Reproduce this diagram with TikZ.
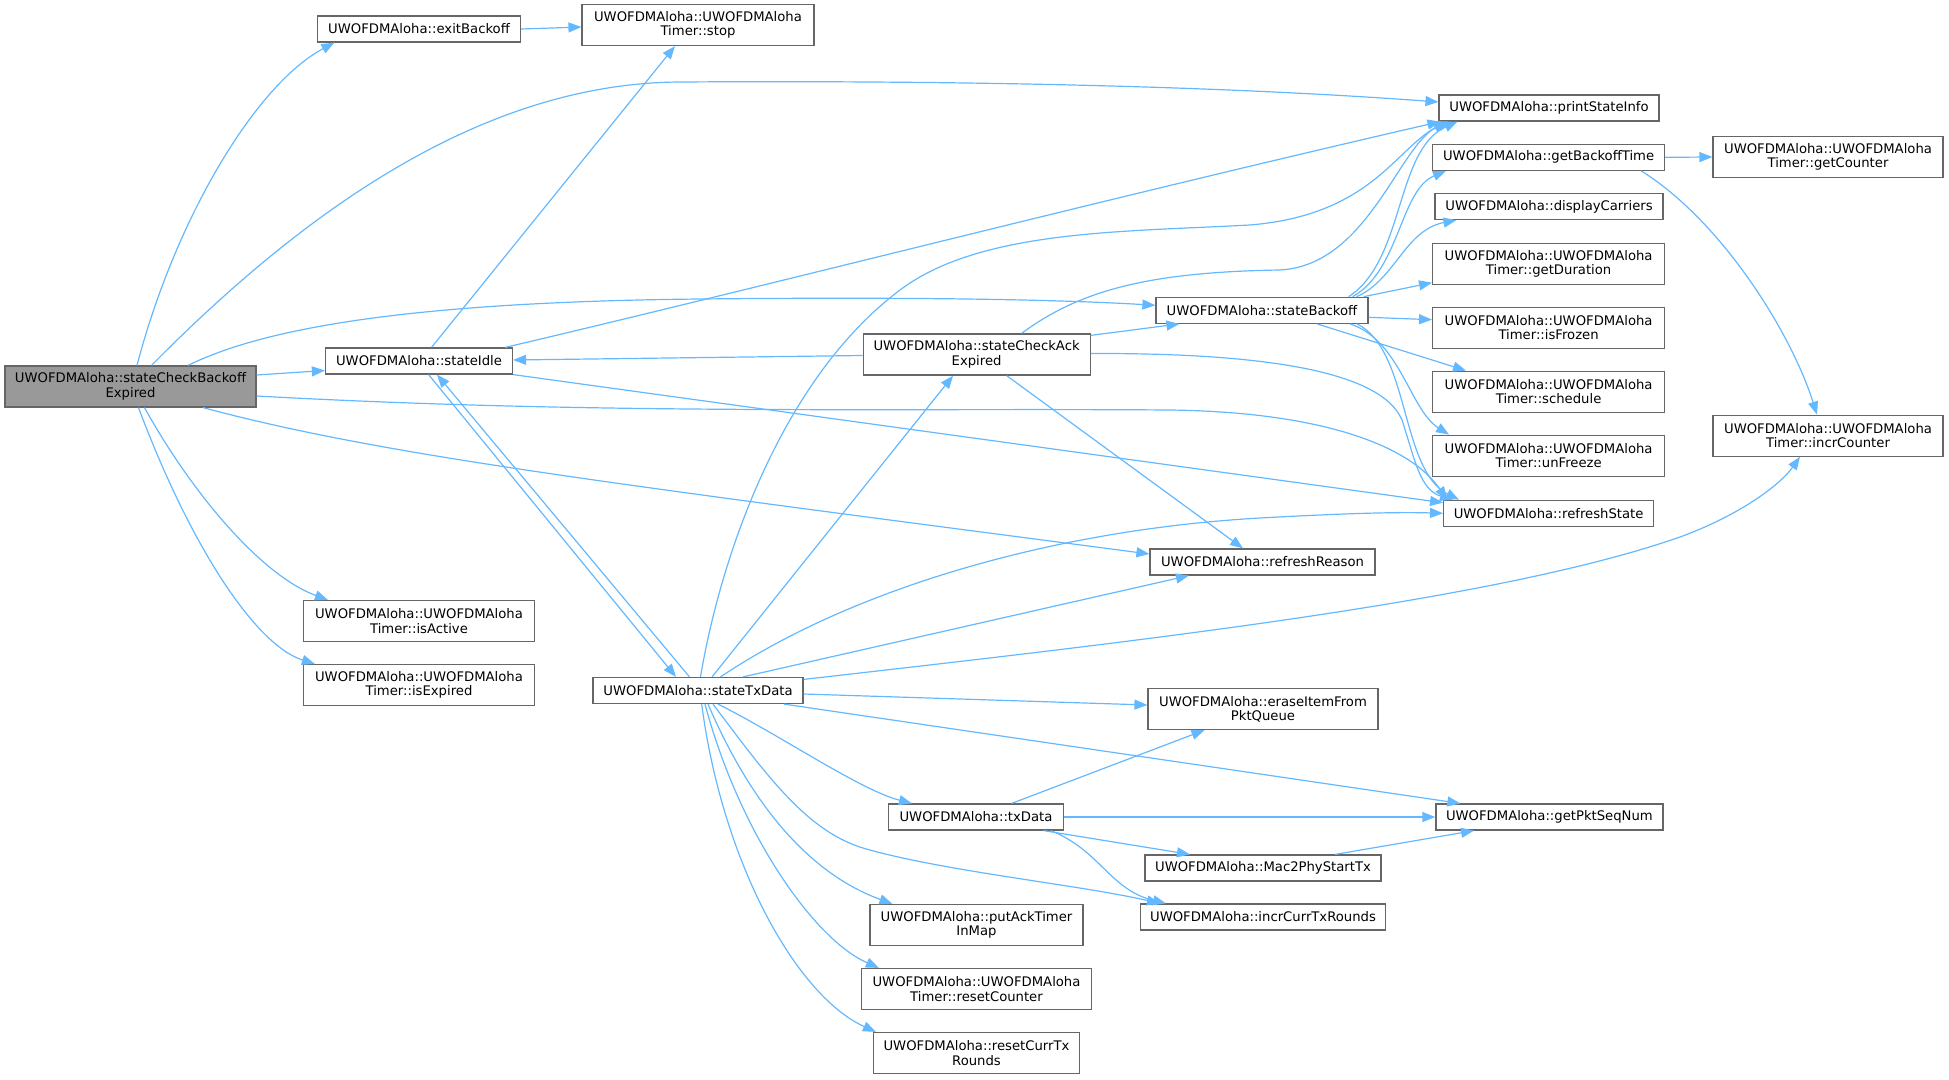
\documentclass[tikz,border=0pt]{standalone}
\usepackage{fontspec}
\setmainfont{DejaVu Sans}
\usetikzlibrary{arrows.meta,calc}
\definecolor{edgecol}{HTML}{63B8FF}
\definecolor{boxborder}{HTML}{666666}
\definecolor{mainfill}{HTML}{999999}
\tikzset{
  fn/.style={draw=boxborder, fill=white, line width=1.2pt, inner sep=0pt, align=center,
    font=\fontsize{13.2}{14.3}\selectfont},
  fnmain/.style={fn, fill=mainfill},
  sz/.style 2 args={minimum width=#1pt, minimum height=#2pt},
  call/.style={draw=edgecol, line width=1.2pt, -{Triangle[length=13pt,width=10pt]}},
}
\begin{document}
\begin{tikzpicture}[x=1pt,y=-1pt]
\useasboundingbox (0,0) rectangle (1949,1079);
% nodes
\node[fnmain, sz={251}{41}] (scbe) at (130.5,386.5) {UWOFDMAloha::stateCheckBackoff\\Expired};
\node[fn, sz={203}{26}] (exitb) at (419,29) {UWOFDMAloha::exitBackoff};
\node[fn, sz={232}{41}] (stop) at (698,25) {UWOFDMAloha::UWOFDMAloha\\Timer::stop};
\node[fn, sz={187}{26}] (idle) at (419,361) {UWOFDMAloha::stateIdle};
\node[fn, sz={220}{26}] (psi) at (1549,108) {UWOFDMAloha::printStateInfo};
\node[fn, sz={232}{26}] (gbt) at (1548.6,157.3) {UWOFDMAloha::getBackoffTime};
\node[fn, sz={230}{41}] (gcnt) at (1828,157) {UWOFDMAloha::UWOFDMAloha\\Timer::getCounter};
\node[fn, sz={228}{26}] (disp) at (1549,206.5) {UWOFDMAloha::displayCarriers};
\node[fn, sz={232}{41}] (gdur) at (1548.6,263.7) {UWOFDMAloha::UWOFDMAloha\\Timer::getDuration};
\node[fn, sz={212}{26}] (sbo) at (1262,310.3) {UWOFDMAloha::stateBackoff};
\node[fn, sz={232}{41}] (frz) at (1548.6,327.7) {UWOFDMAloha::UWOFDMAloha\\Timer::isFrozen};
\node[fn, sz={227}{41}] (scae) at (976.6,354.5) {UWOFDMAloha::stateCheckAck\\Expired};
\node[fn, sz={232}{41}] (sched) at (1548.6,391.7) {UWOFDMAloha::UWOFDMAloha\\Timer::schedule};
\node[fn, sz={230}{41}] (icnt) at (1828,435.7) {UWOFDMAloha::UWOFDMAloha\\Timer::incrCounter};
\node[fn, sz={232}{41}] (unf) at (1548.6,455.7) {UWOFDMAloha::UWOFDMAloha\\Timer::unFreeze};
\node[fn, sz={210}{26}] (rst) at (1548.6,513.3) {UWOFDMAloha::refreshState};
\node[fn, sz={225}{26}] (rrs) at (1262.5,562) {UWOFDMAloha::refreshReason};
\node[fn, sz={231}{41}] (act) at (419,621) {UWOFDMAloha::UWOFDMAloha\\Timer::isActive};
\node[fn, sz={231}{41}] (expd) at (419,685) {UWOFDMAloha::UWOFDMAloha\\Timer::isExpired};
\node[fn, sz={210}{26}] (txd) at (698,690.5) {UWOFDMAloha::stateTxData};
\node[fn, sz={230}{41}] (erase) at (1263,709) {UWOFDMAloha::eraseItemFrom\\PktQueue};
\node[fn, sz={175}{26}] (txdata) at (976,817) {UWOFDMAloha::txData};
\node[fn, sz={227}{26}] (gpsn) at (1549.4,817) {UWOFDMAloha::getPktSeqNum};
\node[fn, sz={236}{26}] (mac) at (1263,868) {UWOFDMAloha::Mac2PhyStartTx};
\node[fn, sz={245}{26}] (icr) at (1263,917) {UWOFDMAloha::incrCurrTxRounds};
\node[fn, sz={213}{41}] (put) at (976.5,925) {UWOFDMAloha::putAckTimer\\InMap};
\node[fn, sz={230}{41}] (rcnt) at (976.5,989) {UWOFDMAloha::UWOFDMAloha\\Timer::resetCounter};
\node[fn, sz={206}{41}] (rctr) at (976.5,1053) {UWOFDMAloha::resetCurrTx\\Rounds};
% edges from stateCheckBackoffExpired
\draw[call] ([xshift=6.5pt]scbe.north) .. controls (175,220) and (255,85) .. ([xshift=17.5pt]exitb.south west);
\draw[call] ([xshift=21pt]scbe.north) .. controls (300,215) and (480,83) .. (680,82) .. controls (1000,80) and (1250,88) .. ([yshift=6pt]psi.west);
\draw[call] ([xshift=57.5pt]scbe.north) .. controls (260,330) and (400,302) .. (700,299) .. controls (900,297) and (1050,299) .. ([yshift=5pt]sbo.west);
\draw[call] ([yshift=11.5pt]scbe.east) -- ([yshift=-9.5pt]idle.west);
\draw[call] ([yshift=-9.5pt]scbe.east) .. controls (600,415) and (900,408) .. (1170,410) .. controls (1320,412) and (1410,445) .. ([xshift=4pt]rst.north west);
\draw[call] ([xshift=72.5pt]scbe.south) .. controls (380,455) and (600,482) .. ([yshift=8pt]rrs.west);
\draw[call] ([xshift=14pt]scbe.south) .. controls (190,490) and (260,575) .. ([xshift=25pt]act.north west);
\draw[call] ([xshift=8pt]scbe.south) .. controls (190,545) and (255,645) .. ([xshift=12pt]expd.north west);
% exitBackoff
\draw[call] (exitb.east) -- ([yshift=-2pt]stop.west);
% stateIdle
\draw[call] ([xshift=12.5pt]idle.north) -- ([xshift=-23pt]stop.south);
\draw[call] ([xshift=-8pt]idle.north east) .. controls (750,290) and (1100,200) .. ([xshift=2pt]psi.south west);
\draw[call] (idle.south east) -- ([yshift=-3pt]rst.north west);
\draw[call] ([xshift=9.6pt]idle.south) -- ([xshift=-22pt]txd.north);
\draw[call] ([xshift=-8.5pt]txd.north) -- ([xshift=18pt]idle.south);
% stateCheckAckExpired
\draw[call] ([yshift=-1pt]scae.west) -- ([yshift=1pt]idle.east);
\draw[call] ([yshift=-2pt]scae.north east) -- ([xshift=24pt]sbo.south west);
\draw[call] ([xshift=45pt]scae.north) .. controls (1080,290) and (1150,272) .. (1280,270) .. controls (1370,265) and (1400,140) .. ([xshift=13pt]psi.south west);
\draw[call] ([yshift=1pt]scae.east) .. controls (1250,353) and (1380,368) .. (1402,420) .. controls (1415,460) and (1420,490) .. ([xshift=10pt]rst.north west);
\draw[call] ([xshift=30pt]scae.south) -- ([xshift=-19.5pt]rrs.north);
% stateBackoff
\draw[call] ([xshift=-5pt]sbo.north east) -- ([yshift=-19pt]gdur.west);
\draw[call] ([xshift=-12pt]sbo.north east) .. controls (1395,280) and (1405,230) .. ([xshift=22pt]disp.south west);
\draw[call] ([xshift=-16pt]sbo.north east) .. controls (1400,270) and (1400,190) .. ([xshift=14pt]gbt.south west);
\draw[call] ([xshift=-20pt]sbo.north east) .. controls (1405,260) and (1395,150) .. ([xshift=19pt]psi.south west);
\draw[call] ([yshift=-7pt]sbo.east) -- ([yshift=8pt]frz.west);
\draw[call] ([xshift=55pt]sbo.south) -- ([xshift=34pt]sched.north west);
\draw[call] ([xshift=88pt]sbo.south) .. controls (1400,340) and (1410,410) .. ([xshift=17pt]unf.north west);
\draw[call] ([xshift=95pt]sbo.south) .. controls (1410,350) and (1400,470) .. ([xshift=16pt]rst.north west);
% getBackoffTime
\draw[call] (gbt.east) -- (gcnt.west);
\draw[call] ([xshift=-24pt]gbt.south east) .. controls (1720,220) and (1790,330) .. ([xshift=-11pt]icnt.north);
% stateTxData
\draw[call] ([xshift=2.5pt]txd.north) .. controls (720,560) and (780,380) .. (900,290) .. controls (980,230) and (1120,232) .. (1250,225) .. controls (1370,215) and (1395,150) .. ([xshift=8pt]psi.south west);
\draw[call] ([xshift=14pt]txd.north) -- ([xshift=-23.5pt]scae.south);
\draw[call] ([xshift=22.5pt]txd.north) .. controls (850,590) and (1050,530) .. (1260,518) .. controls (1350,513) and (1400,512) .. (rst.west);
\draw[call] ([xshift=45pt]txd.north) -- ([xshift=39.5pt]rrs.south west);
\draw[call] ([yshift=-2.5pt]txd.north east) .. controls (1150,640) and (1500,600) .. (1680,537) .. controls (1740,515) and (1780,485) .. ([xshift=-28pt]icnt.south);
\draw[call] ([yshift=-3.5pt]txd.east) -- ([yshift=4pt]erase.west);
\draw[call] ([xshift=-19.5pt]txd.south east) -- ([xshift=25pt]gpsn.north west);
\draw[call] ([xshift=20pt]txd.south) .. controls (780,735) and (860,790) .. ([xshift=24pt]txdata.north west);
\draw[call] ([xshift=15pt]txd.south) .. controls (770,780) and (810,835) .. (870,850) .. controls (950,872) and (1080,885) .. ([xshift=20pt]icr.north west);
\draw[call] ([xshift=10pt]txd.south) .. controls (745,790) and (800,870) .. ([xshift=23pt]put.north west);
\draw[call] ([xshift=7pt]txd.south) .. controls (740,835) and (815,940) .. ([xshift=18pt]rcnt.north west);
\draw[call] ([xshift=3.7pt]txd.south) .. controls (722,860) and (795,995) .. ([xshift=3pt]rctr.north west);
% txData
\draw[call] ([xshift=35.6pt]txdata.north) -- ([xshift=-58.5pt]erase.south);
\draw[call] (txdata.east) -- (gpsn.west);
\draw[call] ([xshift=-20.5pt]txdata.south east) -- ([xshift=45.5pt]mac.north west);
\draw[call] ([xshift=-13.5pt]txdata.south east) .. controls (1100,850) and (1110,890) .. ([xshift=26pt]icr.north west);
% Mac2PhyStartTx
\draw[call] ([xshift=-46.5pt]mac.north east) -- ([xshift=38.7pt]gpsn.south west);
\end{tikzpicture}
\end{document}
